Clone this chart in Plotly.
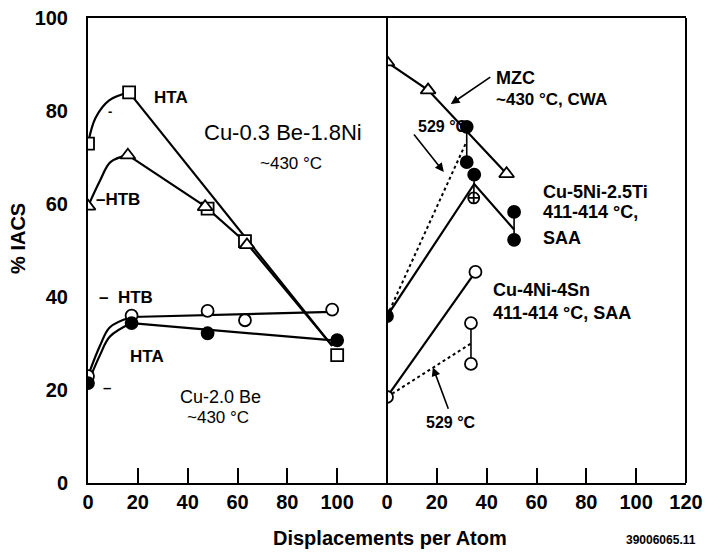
import plotly.graph_objects as go

# ---------------- data (left panel: Cu-0.3Be-1.8Ni and Cu-2.0Be, ~430 C) ----------------
bn_hta_x = [0, 16.5, 48, 63, 100]
bn_hta_y = [73, 84, 59, 52, 27.5]
bn_hta_curve_x = [0, 3, 8.5, 16.5]
bn_hta_curve_y = [73, 78.5, 82.3, 84]
bn_hta_line_x = [16.5, 98]
bn_hta_line_y = [84, 29.5]

bn_htb_x = [0, 16, 47, 63.8]
bn_htb_y = [59.5, 70.5, 59.4, 51.2]
bn_htb_curve_x = [0, 4.8, 9, 16]
bn_htb_curve_y = [59.5, 65, 69, 70.5]
bn_htb_line_x = [16, 47, 63.8, 98]
bn_htb_line_y = [70.5, 59.5, 51.5, 29.5]

be_htb_x = [0, 17.5, 48, 63, 98]
be_htb_y = [23, 36, 37, 35, 37.3]
be_htb_curve_x = [0, 4.8, 8.8, 17.5]
be_htb_curve_y = [23, 29.5, 33.5, 35.7]
be_htb_line_x = [17.5, 98]
be_htb_line_y = [35.7, 36.8]

be_hta_x = [0, 17.5, 48, 100]
be_hta_y = [21.5, 34.4, 32.2, 30.7]
be_hta_curve_x = [0, 4.8, 8.8, 17.5]
be_hta_curve_y = [21.5, 27.5, 31.5, 34.4]
be_hta_line_x = [17.5, 99.6]
be_hta_line_y = [34.4, 30.6]

# ---------------- data (right panel) ----------------
mzc_x = [0, 16.5, 48]
mzc_y = [90.5, 84.5, 66.5]

ti_x = [0, 32, 32, 35, 51, 51]
ti_y = [35.9, 76.6, 69, 66.3, 58.3, 52.3]
ti_cross_x = [34.8]
ti_cross_y = [61.3]
ti_line_x = [0, 35, 51]
ti_line_y = [35.9, 64.3, 54.5]
ti_529_x = [0, 32]
ti_529_y = [35.9, 73.5]
ti_bar1_x = [32, 32]
ti_bar1_y = [76.6, 69]
ti_bar2_x = [35, 34.8]
ti_bar2_y = [66.3, 61.3]
ti_bar3_x = [51, 51]
ti_bar3_y = [58.3, 52.3]

sn_x = [0, 35.5, 33.7, 33.7]
sn_y = [18.5, 45.4, 34.4, 25.6]
sn_line_x = [0, 35.5]
sn_line_y = [18.5, 45.4]
sn_529_x = [0, 33.7]
sn_529_y = [18.5, 30]
sn_bar_x = [33.7, 33.7]
sn_bar_y = [34.4, 25.6]

left_ticks = [0, 20, 40, 60, 80, 100]
right_ticks = [0, 20, 40, 60, 80, 100, 120]
y_ticks = [0, 20, 40, 60, 80, 100]

FONT = "Liberation Sans, Arial, sans-serif"
K = "black"
LW = 2.2

fig = go.Figure()


def line(x, y, xa="x", dash="solid", spline=False, w=LW):
    fig.add_trace(go.Scatter(
        x=x, y=y, xaxis=xa, yaxis="y", mode="lines",
        line=dict(color=K, width=w, dash=dash,
                  shape="spline" if spline else "linear", smoothing=1.0),
        hoverinfo="skip", showlegend=False))


def marks(x, y, symbol, filled, xa="x", size=12):
    fig.add_trace(go.Scatter(
        x=x, y=y, xaxis=xa, yaxis="y", mode="markers",
        marker=dict(symbol=symbol, size=size, color=K if filled else "white",
                    line=dict(color=K, width=1.8)),
        hoverinfo="skip", showlegend=False))


# left panel lines
line(bn_hta_curve_x, bn_hta_curve_y, spline=True)
line(bn_hta_line_x, bn_hta_line_y)
line(bn_htb_curve_x, bn_htb_curve_y, spline=True)
line(bn_htb_line_x, bn_htb_line_y)
line(be_htb_curve_x, be_htb_curve_y, spline=True)
line(be_htb_line_x, be_htb_line_y)
line(be_hta_curve_x, be_hta_curve_y, spline=True)
line(be_hta_line_x, be_hta_line_y)

# right panel lines
line(mzc_x, mzc_y, xa="x2")
line(ti_line_x, ti_line_y, xa="x2")
line(ti_529_x, ti_529_y, xa="x2", dash="dot", w=2)
line(ti_bar1_x, ti_bar1_y, xa="x2", w=1.6)
line(ti_bar2_x, ti_bar2_y, xa="x2", w=1.6)
line(ti_bar3_x, ti_bar3_y, xa="x2", w=1.6)
line(sn_line_x, sn_line_y, xa="x2")
line(sn_529_x, sn_529_y, xa="x2", dash="dot", w=2)
line(sn_bar_x, sn_bar_y, xa="x2", w=1.6)

# markers
marks(bn_hta_x, bn_hta_y, "square", False, size=12)
marks(bn_htb_x, bn_htb_y, "triangle-up", False, size=13)
marks(be_htb_x, be_htb_y, "circle", False, size=12)
marks(be_hta_x, be_hta_y, "circle", True, size=12)
marks(mzc_x, mzc_y, "triangle-up", False, xa="x2", size=13)
marks(ti_x, ti_y, "circle", True, xa="x2", size=12)
marks(ti_cross_x, ti_cross_y, "circle-cross", False, xa="x2", size=11)
marks(sn_x, sn_y, "circle", False, xa="x2", size=12)

ann = []


def txt(x, y, s, xref="x", size=18, bold=False, xanchor="center"):
    ann.append(dict(x=x, y=y, xref=xref, yref="y", text=f"<b>{s}</b>" if bold else s,
                    showarrow=False, xanchor=xanchor, yanchor="middle",
                    font=dict(family=FONT, size=size, color=K)))


def arrow(x, y, ax, ay, xref="x2"):
    ann.append(dict(x=x, y=y, xref=xref, yref="y", ax=ax, ay=ay, text="",
                    showarrow=True, arrowhead=2, arrowsize=1.1, arrowwidth=1.6,
                    arrowcolor=K))


# left panel labels
txt(33.3, 83, "HTA", size=17, bold=True)
txt(78.3, 75.3, "Cu-0.3 Be-1.8Ni", size=22)
txt(81.5, 68.8, "~430 °C", size=17)
txt(2.4, 60.9, "–HTB", size=17, bold=True, xanchor="left")
txt(3.6, 40, "–  HTB", size=17, bold=True, xanchor="left")
txt(23.7, 27.1, "HTA", size=17, bold=True)
txt(5.4, 20.6, "–", size=15, bold=True, xanchor="left")
txt(7.2, 79.8, "-", size=13, bold=True, xanchor="left")
txt(53, 18.5, "Cu-2.0 Be", size=18)
txt(52.2, 14, "~430 °C", size=17)

# right panel labels
txt(43, 87.1, "MZC", xref="x2", size=18, bold=True, xanchor="left")
txt(43, 82.4, "~430 °C, CWA", xref="x2", size=17, bold=True, xanchor="left")
txt(11.6, 76.6, "529 °C", xref="x2", size=16, bold=True, xanchor="left")
txt(61.8, 62.6, "Cu-5Ni-2.5Ti", xref="x2", size=18, bold=True, xanchor="left")
txt(61.8, 58.3, "411-414 °C,", xref="x2", size=18, bold=True, xanchor="left")
txt(61.8, 52.7, "SAA", xref="x2", size=18, bold=True, xanchor="left")
txt(41.8, 41.5, "Cu-4Ni-4Sn", xref="x2", size=18, bold=True, xanchor="left")
txt(41.8, 36.6, "411-414 °C, SAA", xref="x2", size=18, bold=True, xanchor="left")
txt(14.9, 13.1, "529 °C", xref="x2", size=16, bold=True, xanchor="left")

arrow(25.6, 81.5, 41, -28)
arrow(22.8, 66.9, -31, -39)
arrow(18.4, 24.9, 16, 43)

# axis titles and code
ann.append(dict(x=0.505, y=-0.118, xref="paper", yref="paper", showarrow=False,
                text="<b>Displacements per Atom</b>", xanchor="center", yanchor="middle",
                font=dict(family=FONT, size=20, color=K)))
ann.append(dict(x=-0.117, y=0.525, xref="paper", yref="paper", showarrow=False,
                text="<b>% IACS</b>", textangle=-90, xanchor="center", yanchor="middle",
                font=dict(family=FONT, size=20, color=K)))
ann.append(dict(x=1.02, y=-0.123, xref="paper", yref="paper", showarrow=False,
                text="<b>39006065.11</b>", xanchor="right", yanchor="middle",
                font=dict(family=FONT, size=12, color=K)))

shapes = [
    dict(type="line", xref="x2 domain", yref="y domain", x0=0, x1=0, y0=0, y1=1,
         line=dict(color=K, width=2)),
    dict(type="line", xref="x2 domain", yref="y domain", x0=1, x1=1, y0=0, y1=1,
         line=dict(color=K, width=2)),
]

axis_common = dict(range=[0, 120], showgrid=False, zeroline=False, showline=True,
                   linecolor=K, linewidth=2, mirror=True, ticks="inside", ticklen=15,
                   tickwidth=2, tickcolor=K, automargin=False,
                   tickfont=dict(family=FONT, size=20, color=K, weight="bold"))

fig.update_layout(
    width=706, height=560,
    margin=dict(l=88, r=20, t=18, b=77),
    paper_bgcolor="white", plot_bgcolor="white",
    showlegend=False,
    xaxis=dict(domain=[0, 0.5], tickvals=left_ticks, anchor="y", **axis_common),
    xaxis2=dict(domain=[0.5, 1], tickvals=right_ticks, anchor="y", **axis_common),
    yaxis=dict(range=[0, 100], tickvals=y_ticks, showgrid=False, zeroline=False,
               showline=True, linecolor=K, linewidth=2, ticks="", ticklabelstandoff=14,
               automargin=False,
               tickfont=dict(family=FONT, size=20, color=K, weight="bold")),
    annotations=ann,
    shapes=shapes,
)

fig.write_html("out.html", config={"displayModeBar": False, "staticPlot": True},
               post_script="document.body.style.margin='0';document.body.style.overflow='hidden';")
